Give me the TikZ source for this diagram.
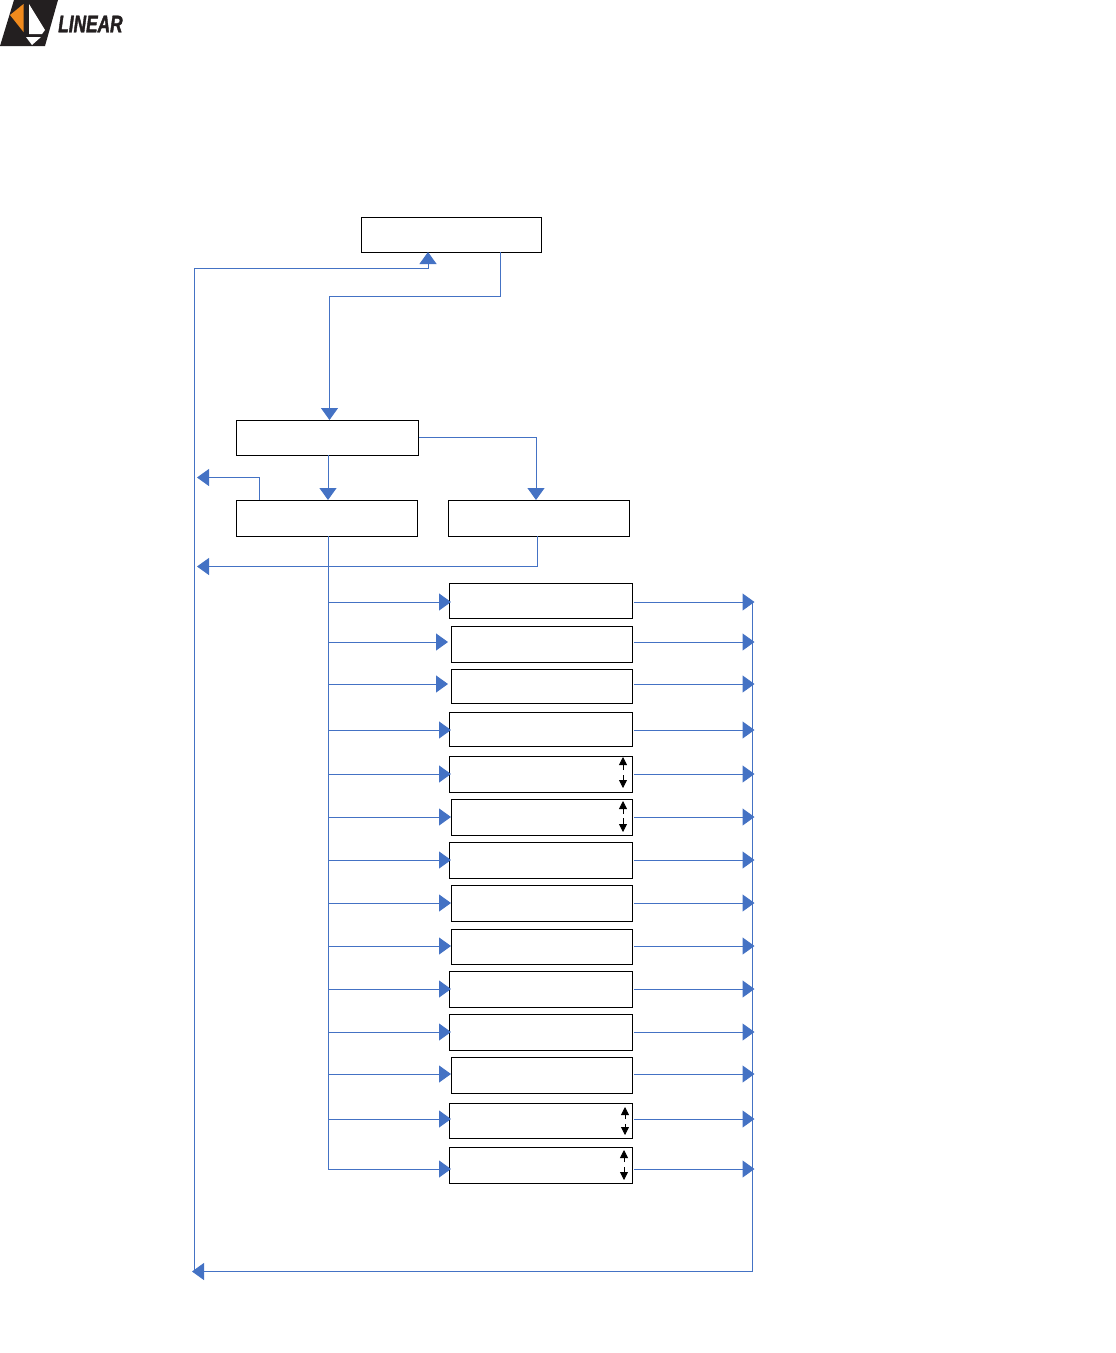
\documentclass[tikz,border=0pt]{standalone}
\usepackage{fontspec}
\setmainfont{Liberation Sans}
\newfontfamily\logofont[ItalicFont={Liberation Sans Bold Italic},FakeStretch=0.72,FakeBold=1.6]{Liberation Sans Bold}
\usetikzlibrary{arrows.meta}
\definecolor{flowblue}{HTML}{4472C4}
\definecolor{logoorange}{HTML}{F08A1D}
\definecolor{logoblack}{HTML}{231F20}
\tikzset{
  x=0.75pt,y=-0.75pt,
  boxnode/.style={draw=black,fill=white,line width=0.75pt,inner sep=0pt,rectangle},
  flow/.style={draw=flowblue,line width=0.75pt,-{Triangle[width=12.75pt,length=9pt,fill=flowblue]}},
  plainflow/.style={draw=flowblue,line width=0.75pt},
  updown/.style={draw=black,line width=0.6pt,-{Triangle[width=6pt,length=6pt,fill=black]}},
}
\newcommand{\pxbox}[5]{% name, left, top, right, bottom
  \path ({(#2+#4)/2},{(#3+#5)/2}) node[boxnode,minimum width={(#4-#2)*0.75pt},minimum height={(#5-#3)*0.75pt}] (#1) {};
}
\begin{document}
\begin{tikzpicture}
\useasboundingbox (0,0) rectangle (1116,1353);
% logo
\fill[logoblack] (0,46) -- (14,0) -- (58,0) -- (45,46) -- cycle;
\fill[logoorange] (10,15) -- (23.5,4) -- (23.5,32) -- cycle;
\fill[white] (29,4) -- (45,30) -- (42,34) -- (29,34) -- cycle;
\fill[white] (26,37) -- (41,37) -- (32,45) -- cycle;
\node[anchor=west,inner sep=0pt,text=logoblack,font=\logofont\itshape\fontsize{18pt}{18pt}\selectfont] (logotext) at (58,24) {LINEAR};
% upper boxes
\pxbox{top}{361}{217}{541}{252}
\pxbox{mid}{236}{420}{418}{455}
\pxbox{la}{236}{500}{417}{536}
\pxbox{lb}{448}{500}{629}{536}
% list boxes
\foreach \i/\l/\t/\b/\y/\tip in {
 1/449/583/618/602/451, 2/451/626/662/642/448, 3/451/669/703/684/448, 4/449/712/746/730/451,
 5/449/756/792/774/451, 6/451/799/835/817/451, 7/449/842/878/860/451, 8/451/885/921/903/451,
 9/451/929/964/946/451, 10/449/971/1007/989/451, 11/449/1014/1050/1032/451, 12/451/1057/1093/1074/451,
 13/449/1103/1138/1119/451, 14/449/1147/1183/1169/451}{
  \pxbox{r\i}{\l}{\t}{632}{\b}
  \coordinate (tl\i) at (328,\y);
  \coordinate (tip\i) at (\tip,\y);
  \coordinate (tr\i) at (754.5,\y);
  \draw[flow] (tl\i) -- (tip\i);
  \draw[flow] (634,\y) -- (tr\i);
}
% trunks
\coordinate (laTrunk) at (328,536);
\draw[plainflow] (laTrunk) -- (tl14);
\draw[plainflow] (752,602) -- (752,1271.5);
\coordinate (bottomL) at (192,1271.5);
\draw[flow] (752,1271.5) -- (bottomL);
\draw[flow] (194,1271.5) -- (194,268) -- (428,268) -- (428,252);
% top to mid
\draw[flow] (500,252) -- (500,296) -- (329.5,296) -- (329.5,420);
\draw[flow] (328,455) -- (328,500);
\draw[flow] (mid.east |- 0,437) -- (536,437) -- (536,500);
\draw[flow] (259.5,500) -- (259.5,477.5) -- (197,477.5);
\draw[flow] (537.5,536) -- (537.5,566.5) -- (197,566.5);
% up/down marks
\foreach \x/\t/\ua/\ub/\da/\db in {623/756/1/14/19/32, 623/799/2/15/19/33, 625/1103/4/16/21/32, 624/1147/3/15/20/33}{
  \draw[updown] (\x,{\t+\ub}) -- (\x,{\t+\ua});
  \draw[updown] (\x,{\t+\da}) -- (\x,{\t+\db});
}
\end{tikzpicture}
\end{document}
